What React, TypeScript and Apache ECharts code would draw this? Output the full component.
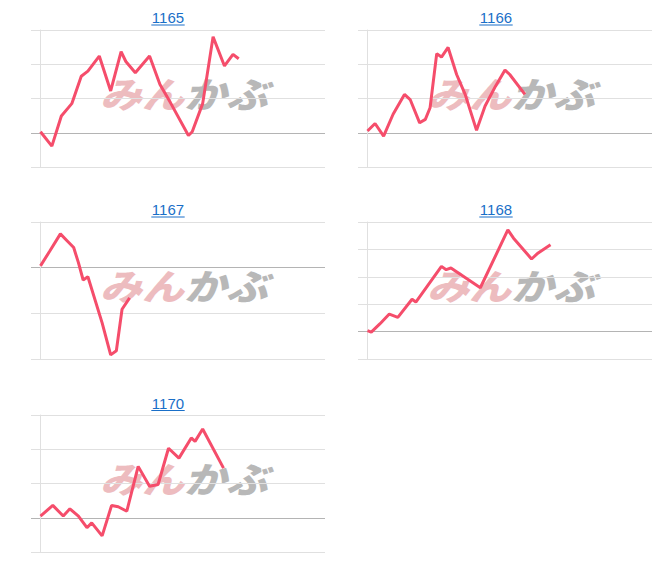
import React, { useEffect, useRef } from "react";
import * as echarts from "echarts";

// chart titles (stock codes)
const codes = ["1165", "1166", "1167", "1168", "1170"];

// minutes since open and price moves (in grid-interval units, 0 = previous close)
const times1165 = [0, 12, 22, 33, 43, 50, 62, 74, 85, 90, 100, 115, 126, 137, 156, 160, 171, 182, 194, 203, 209];
const values1165 = [0.03, -0.39, 0.49, 0.85, 1.65, 1.8, 2.24, 1.22, 2.37, 2.08, 1.75, 2.24, 1.41, 0.88, -0.08, 0.03, 0.85, 2.8, 1.95, 2.29, 2.16];

const times1166 = [0, 8, 17, 27, 39, 45, 55, 61, 66, 73, 78, 85, 94, 103, 115, 124, 135, 145, 150, 166];
const values1166 = [0.05, 0.27, -0.1, 0.54, 1.12, 0.97, 0.29, 0.39, 0.73, 2.31, 2.21, 2.49, 1.7, 1.12, 0.07, 0.78, 1.36, 1.83, 1.7, 1.12];

const times1167 = [0, 10, 21, 28, 35, 40, 45, 50, 65, 74, 80, 86, 94];
const values1167 = [0.04, 0.37, 0.74, 0.59, 0.44, 0.11, -0.27, -0.2, -1.21, -1.91, -1.82, -0.91, -0.66];

const times1168 = [0, 4, 13, 23, 32, 47, 51, 78, 83, 88, 119, 148, 154, 173, 180, 193];
const values1168 = [0.04, -0.02, 0.28, 0.64, 0.52, 1.18, 1.08, 2.38, 2.26, 2.32, 1.6, 3.71, 3.41, 2.65, 2.87, 3.17];

const times1170 = [0, 13, 24, 31, 40, 49, 54, 65, 75, 82, 91, 103, 115, 124, 135, 146, 159, 163, 171, 193];
const values1170 = [0.05, 0.36, 0.05, 0.26, 0.05, -0.29, -0.15, -0.53, 0.36, 0.32, 0.19, 1.5, 0.92, 0.97, 2.03, 1.74, 2.33, 2.23, 2.59, 1.45];

// y ranges (grid-interval units)
const yMins = [-1, -1, -2, -1, -1];
const yMaxs = [3, 3, 1, 4, 3];

const allTimes = [times1165, times1166, times1167, times1168, times1170];
const allValues = [values1165, values1166, values1167, values1168, values1170];

const LINE = "#f54d6b";
const GRID = "#e0e0e0";
const BASE = "#b4b4b4";
const LINK = "#1a6fc8";

export default function App() {
  const ref = useRef<HTMLDivElement>(null);
  useEffect(() => {
    if (!ref.current) return;
    const chart = echarts.init(ref.current, undefined, { renderer: "svg" });

    const panels = [
      { left: 31, top: 30, tx: 168, ty: 17.5 },
      { left: 358, top: 30, tx: 496, ty: 17.5 },
      { left: 31, top: 222, tx: 168, ty: 209.5 },
      { left: 358, top: 222, tx: 496, ty: 209.5 },
      { left: 31, top: 415, tx: 168, ty: 403 },
    ];
    const W = 294;
    const H = 137;

    const grids = panels.map((p) => ({ left: p.left, top: p.top, width: W, height: H, containLabel: false }));
    const xAxes = panels.map((_, i) => ({
      type: "value",
      gridIndex: i,
      min: -10,
      max: 300,
      axisLine: { show: false },
      axisTick: { show: false },
      axisLabel: { show: false },
      splitLine: { show: false },
    }));
    const yAxes = panels.map((_, i) => {
      const colors: string[] = [];
      for (let v = yMins[i]; v <= yMaxs[i]; v++) colors.push(v === 0 ? BASE : GRID);
      return {
        type: "value",
        gridIndex: i,
        min: yMins[i],
        max: yMaxs[i],
        interval: 1,
        axisLine: { show: true, onZero: true, lineStyle: { color: GRID, width: 1 } },
        axisTick: { show: false },
        axisLabel: { show: false },
        splitLine: { show: true, lineStyle: { color: colors, width: 1 } },
      };
    });
    const series = panels.map((_, i) => ({
      type: "line",
      xAxisIndex: i,
      yAxisIndex: i,
      data: allTimes[i].map((t, k) => [t, allValues[i][k]]),
      showSymbol: false,
      symbol: "none",
      lineStyle: { color: LINE, width: 3 },
      silent: true,
      z: 3,
    }));

    const graphics: any[] = [];
    panels.forEach((p, i) => {
      const wx = p.left + 153;
      const wy = p.top + H / 2 - 6.5;
      graphics.push({
        type: "text",
        z: -1,
        silent: true,
        x: wx,
        y: wy,
        scaleY: 0.85,
        style: {
          x: 0,
          y: 0,
          text: "みん",
          fill: "#edbcbf",
          font: "italic 900 42px 'Noto Sans CJK JP'",
          align: "right",
          verticalAlign: "middle",
        },
      });
      graphics.push({
        type: "text",
        z: -1,
        silent: true,
        x: wx,
        y: wy,
        scaleY: 0.85,
        style: {
          x: 0,
          y: 0,
          text: "かぶ",
          fill: "#b8b8b8",
          font: "italic 900 42px 'Noto Sans CJK JP'",
          align: "left",
          verticalAlign: "middle",
        },
      });
      graphics.push({
        type: "text",
        style: {
          x: p.tx,
          y: p.ty,
          text: codes[i],
          fill: LINK,
          font: "15px 'Liberation Sans', Arial, sans-serif",
          align: "center",
          verticalAlign: "middle",
        },
      });
      graphics.push({
        type: "line",
        shape: { x1: p.tx - 16.7, y1: p.ty + 7.5, x2: p.tx + 16.7, y2: p.ty + 7.5 },
        style: { stroke: LINK, lineWidth: 1 },
      });
    });

    chart.setOption({
      animation: false,
      grid: grids,
      xAxis: xAxes,
      yAxis: yAxes,
      series,
      graphic: graphics,
    });
    return () => chart.dispose();
  }, []);
  return (
    <div
      ref={ref}
      style={{ position: "fixed", left: 0, top: 0, width: 652, height: 574, background: "#fff" }}
    />
  );
}
